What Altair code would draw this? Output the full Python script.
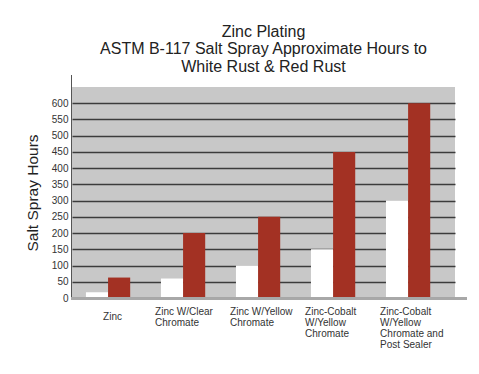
import altair as alt
import pandas as pd

categories = ["Zinc", "Zinc W/Clear|Chromate", "Zinc W/Yellow|Chromate",
              "Zinc-Cobalt|W/Yellow|Chromate", "Zinc-Cobalt|W/Yellow|Chromate and|Post Sealer"]
series = ["White Rust", "Red Rust"]
white_rust = [18, 60, 100, 150, 300]
red_rust = [63, 200, 250, 450, 600]
y_ticks = list(range(0, 650, 50))

rows = []
for c, w, r in zip(categories, white_rust, red_rust):
    rows.append({"category": c, "series": "White Rust", "hours": w})
    rows.append({"category": c, "series": "Red Rust", "hours": r})
df = pd.DataFrame(rows)

FONT = "Liberation Sans"
W, H = 383, 211

bars = alt.Chart(df).mark_bar().encode(
    x=alt.X("category:N", sort=categories,
            scale=alt.Scale(paddingInner=0.41, paddingOuter=0.258, align=0.36),
            axis=alt.Axis(title=None, labelExpr="split(datum.label, '|')",
                          labelAngle=0, labelFontSize=10, labelLineHeight=11,
                          labelColor="#333333", labelFont=FONT,
                          labelAlign="left",
                          labelOffset={"condition": {"test": "datum.value == 'Zinc'", "value": -5}, "value": -28},
                          labelPadding={"condition": {"test": "datum.value == 'Zinc'", "value": 13}, "value": 8},
                          labelBound=False, labelOverlap=False,
                          ticks=False, domain=False, labelBaseline="top")),
    xOffset=alt.XOffset("series:N", sort=series, scale=alt.Scale(paddingInner=0, paddingOuter=0)),
    y=alt.Y("hours:Q", scale=alt.Scale(domain=[0, 650], nice=False),
            axis=alt.Axis(title="Salt Spray Hours", values=y_ticks, grid=True,
                          gridColor="#3c3c3c", gridWidth=1.5, ticks=False, domain=False,
                          labelFontSize=10, labelColor="#333333", labelFont=FONT,
                          labelPadding=4, titleFont=FONT, titleFontSize=15.5,
                          titleFontWeight="normal", titleColor="#222222",
                          titlePadding=11)),
    color=alt.Color("series:N", sort=series,
                    scale=alt.Scale(domain=series, range=["#ffffff", "#a33123"]),
                    legend=None),
)

yline = alt.Chart(df).mark_rule(color="#555555", strokeWidth=1).encode(
    x=alt.value(-0.5), y=alt.value(-12), y2=alt.value(H))
xline = alt.Chart(df).mark_rule(color="#a8a8a8", strokeWidth=2).encode(
    x=alt.value(-1), x2=alt.value(W + 12), y=alt.value(H + 0.5))

chart = alt.layer(bars, yline, xline).properties(
    width=W, height=H,
    padding={"left": 64, "top": 79, "right": 16, "bottom": 68},
    autosize=alt.AutoSizeParams(type="none"),
    background="white",
    title=alt.TitleParams(
        text=["Zinc Plating", "ASTM B-117 Salt Spray Approximate Hours to", "White Rust & Red Rust"],
        font=FONT, fontSize=16, fontWeight="normal", color="#222222",
        anchor="middle", lineHeight=17.5, offset=0),
).configure_view(fill="#c8c8c8", stroke=None)

chart.save("out.html", embed_options={"renderer": "svg", "actions": False})
